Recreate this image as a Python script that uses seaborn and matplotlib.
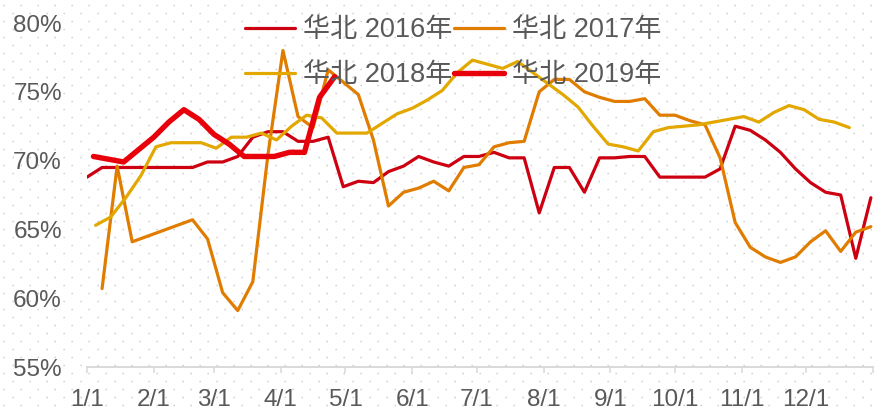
import matplotlib

matplotlib.use("Agg")
import matplotlib.pyplot as plt
import numpy as np
import pandas as pd
import seaborn as sns

# ------------------------------------------------------------
# Data (weekly)
# ------------------------------------------------------------
START_2016 = "2016-01-01"
START_2017 = "2016-01-08"   # first week missing in 2017
START_2018 = "2016-01-05"
START_2019 = "2016-01-04"

north_2016 = [68.8, 69.5, 69.5, 69.5, 69.5, 69.5, 69.5, 69.5, 69.9, 69.9,
              70.3, 71.7, 72.1, 72.1, 71.4, 71.4, 71.7, 68.1, 68.5, 68.4,
              69.2, 69.6, 70.3, 69.9, 69.6, 70.3, 70.3, 70.6, 70.2, 70.2,
              66.2, 69.5, 69.5, 67.7, 70.2, 70.2, 70.3, 70.3, 68.8, 68.8,
              68.8, 68.8, 69.4, 72.5, 72.2, 71.5, 70.6, 69.4, 68.4, 67.7,
              67.5, 62.9, 67.3]
north_2017 = [60.7, 69.6, 64.1, 64.5, 64.9, 65.3, 65.7, 64.3, 60.4, 59.1,
              61.2, 70.4, 78.0, 73.2, 72.4, 76.6, 75.7, 74.8, 71.5, 66.7,
              67.7, 68.0, 68.5, 67.8, 69.5, 69.7, 71.0, 71.3, 71.4, 75.0,
              75.9, 75.9, 75.0, 74.6, 74.3, 74.3, 74.5, 73.3, 73.3, 72.9,
              72.6, 70.2, 65.5, 63.7, 63.0, 62.6, 63.0, 64.1, 64.9, 63.4,
              64.8, 65.2]
north_2018 = [65.3, 65.9, 67.3, 68.9, 71.0, 71.3, 71.3, 71.3, 70.9, 71.7,
              71.7, 72.0, 71.5, 72.5, 73.3, 73.1, 72.0, 72.0, 72.0, 72.7,
              73.4, 73.8, 74.4, 75.1, 76.4, 77.3, 77.0, 76.7, 77.2, 76.4,
              75.6, 74.8, 73.9, 72.5, 71.2, 71.0, 70.7, 72.1, 72.4, 72.5,
              72.6, 72.8, 73.0, 73.2, 72.8, 73.5, 74.0, 73.7, 73.0, 72.8,
              72.4]
north_2019 = [70.3, 70.1, 69.9, 70.8, 71.7, 72.8, 73.7, 73.0, 71.9, 71.2,
              70.3, 70.3, 70.3, 70.6, 70.6, 74.6, 76.1]

labels = ["华北 2016年", "华北 2017年", "华北 2018年", "华北 2019年"]
colors = ["#CC0010", "#E07D00", "#E2A800", "#E8000A"]
widths = [2.3, 2.3, 2.3, 3.9]

month_labels = ["1/1", "2/1", "3/1", "4/1", "5/1", "6/1",
                "7/1", "8/1", "9/1", "10/1", "11/1", "12/1", ""]
month_starts = ["2017-01-01", "2017-02-01", "2017-03-01", "2017-04-01",
                "2017-05-01", "2017-06-01", "2017-07-01", "2017-08-01",
                "2017-09-01", "2017-10-01", "2017-11-01", "2017-12-01",
                "2018-01-01"]
y_ticks = [55, 60, 65, 70, 75, 80]

TEXT_COLOR = "#595959"
AXIS_COLOR = "#D9D9D9"


def weekly(start, values):
    dates = pd.date_range(start, periods=len(values), freq="7D")
    days = (dates - pd.Timestamp(start[:4] + "-01-01")).days
    return pd.DataFrame({"day": days, "rate": values})


sns.set_theme(style="white")
plt.rcParams["font.family"] = ["Liberation Sans", "Noto Sans CJK SC", "DejaVu Sans"]

fig = plt.figure(figsize=(8.77, 4.12), dpi=100)

# dotted background texture
bg = fig.add_axes([0, 0, 1, 1], zorder=0)
bg.set_xlim(0, 877)
bg.set_ylim(412, 0)
bg.axis("off")
for r, yy in enumerate(np.arange(5.3, 412, 8.0)):
    x0 = 3.3 if r % 2 == 0 else 11.8
    bg.plot([x0, 877], [yy, yy], color="#C8C8C8", lw=1.0,
            linestyle=(0, (1.0, 11.24)))

ax = fig.add_axes([87 / 877, 1 - 367 / 412, (873 - 87) / 877, (367 - 23) / 412],
                  zorder=1)
ax.patch.set_alpha(0)

series = [
    weekly(START_2016, north_2016),
    weekly(START_2017, north_2017),
    weekly(START_2018, north_2018),
    weekly(START_2019, north_2019),
]
handles = []
for df, lab, col, lw in zip(series, labels, colors, widths):
    sns.lineplot(data=df, x="day", y="rate", color=col, linewidth=lw,
                 ax=ax, label=lab, legend=False)
    handles.append(ax.lines[-1])

tick_days = [(pd.Timestamp(d) - pd.Timestamp("2017-01-01")).days for d in month_starts]
ax.set_xlim(0, 365)
ax.set_ylim(55, 80)
ax.set_xticks(tick_days)
ax.set_xticklabels(month_labels)
ax.set_yticks(y_ticks)
ax.set_yticklabels([f"{v}%" for v in y_ticks])
ax.set_xlabel("")
ax.set_ylabel("")

for side in ["top", "right", "left"]:
    ax.spines[side].set_visible(False)
ax.spines["bottom"].set_color(AXIS_COLOR)
ax.spines["bottom"].set_linewidth(1.4)

ax.tick_params(axis="x", direction="out", length=4.5, width=1.1, color=AXIS_COLOR,
               labelsize=17.5, labelcolor=TEXT_COLOR, pad=11, bottom=True)
ax.tick_params(axis="y", length=0, labelsize=17.5, labelcolor=TEXT_COLOR, pad=18)

# legend: 2 columns, row-wise order 2016 2017 / 2018 2019
order = [0, 2, 1, 3]
leg = ax.legend([handles[i] for i in order], [labels[i] for i in order],
                ncol=2, loc="upper left", bbox_to_anchor=(245 / 877, 1 - 17 / 412),
                bbox_transform=fig.transFigure, frameon=False, fontsize=19.5,
                handlelength=1.85, handletextpad=0.3, columnspacing=0.05,
                labelspacing=0.72, borderpad=0, borderaxespad=0)
for t in leg.get_texts():
    t.set_color(TEXT_COLOR)

fig.savefig("out.png", dpi=100)
